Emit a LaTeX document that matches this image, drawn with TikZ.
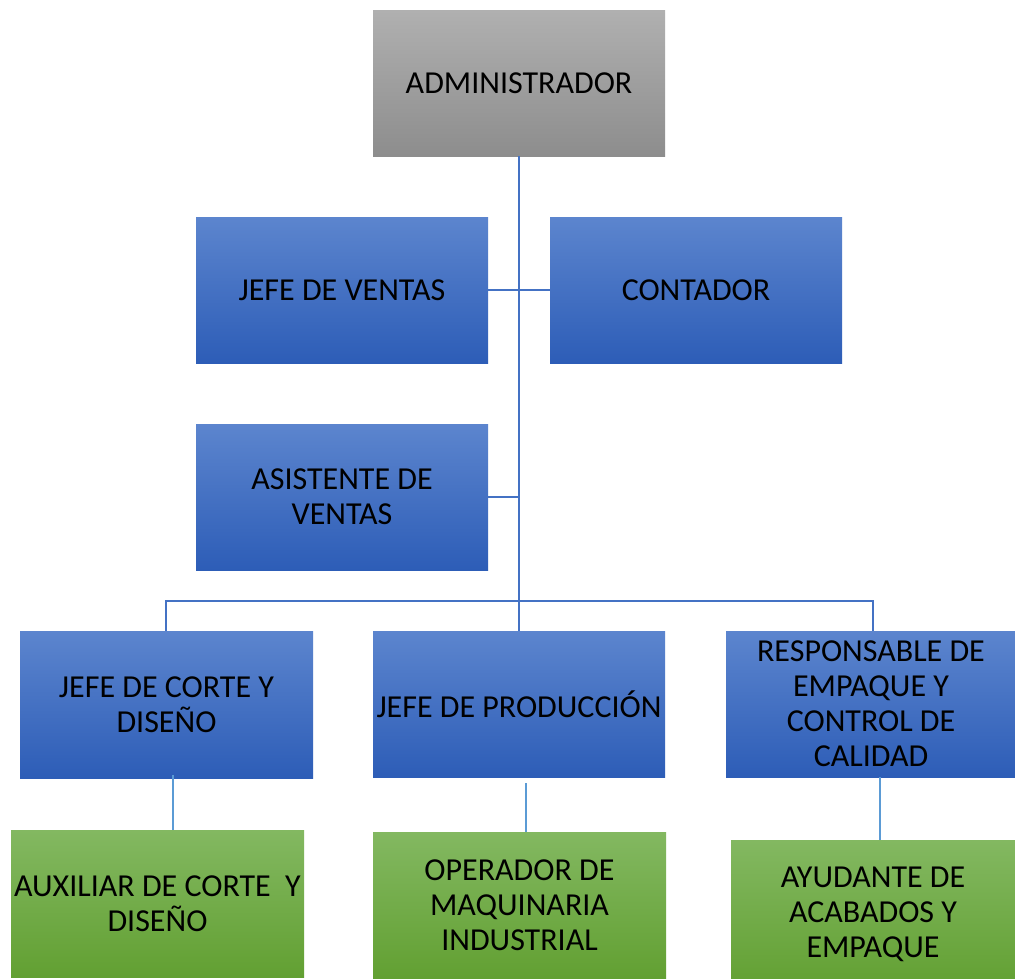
\documentclass[tikz,border=0pt]{standalone}
\usepackage{fontspec}
\setmainfont{Carlito}
\definecolor{bluetop}{RGB}{92,133,206}
\definecolor{bluebot}{RGB}{45,93,183}
\definecolor{greentop}{RGB}{131,184,97}
\definecolor{greenbot}{RGB}{98,160,50}
\definecolor{graytop}{RGB}{176,176,176}
\definecolor{graybot}{RGB}{141,141,141}
\definecolor{conn}{RGB}{68,114,196}
\definecolor{connlight}{RGB}{91,155,213}
\begin{document}
\begin{tikzpicture}[x=1pt,y=-1pt,
  box/.style={rectangle,draw=none,inner sep=0pt,align=center,
    font=\fontsize{32}{35}\selectfont,text=black},
  bluebox/.style={box,top color=bluetop,bottom color=bluebot},
  greenbox/.style={box,top color=greentop,bottom color=greenbot},
  graybox/.style={box,top color=graytop,bottom color=graybot},
  link/.style={draw=conn,line width=1.5pt},
  sublink/.style={draw=connlight,line width=1.2pt}]
\useasboundingbox (0,0) rectangle (1015,978);
\fill[white] (0,0) rectangle (1015,978);
% nodes
\node[graybox,minimum width=292pt,minimum height=146pt] (admin) at (519,83) {ADMINISTRADOR};
\node[bluebox,minimum width=292pt,minimum height=146pt] (jv) at (342,290) {JEFE DE VENTAS};
\node[bluebox,minimum width=292pt,minimum height=146pt] (cont) at (696,290) {CONTADOR};
\node[bluebox,minimum width=292pt,minimum height=146pt] (asis) at (342,497) {ASISTENTE DE\\VENTAS};
\node[bluebox,minimum width=293pt,minimum height=147pt] (jc) at (166.5,704.5) {JEFE DE CORTE Y\\DISEÑO};
\node[bluebox,minimum width=292pt,minimum height=146pt] (jp) at (519,704) {JEFE DE PRODUCCIÓN};
\node[bluebox,minimum width=290pt,minimum height=146pt] (resp) at (871,704) {RESPONSABLE DE\\EMPAQUE Y\\CONTROL DE\\CALIDAD};
\node[greenbox,minimum width=293pt,minimum height=147pt] (aux) at (157.5,903.5) {AUXILIAR DE CORTE\ \ Y\\DISEÑO};
\node[greenbox,minimum width=293pt,minimum height=146pt] (op) at (519.5,905) {OPERADOR DE\\MAQUINARIA\\INDUSTRIAL};
\node[greenbox,minimum width=284pt,minimum height=148pt] (ay) at (873,914) {AYUDANTE DE\\ACABADOS Y\\EMPAQUE};
% connectors
\coordinate (busL) at (166,601);
\coordinate (busR) at (873,601);
\coordinate (l1) at (173,775);
\coordinate (l2) at (526,783);
\coordinate (l3) at (880,777);
\draw[link] (admin.south) -- (jp.north);
\draw[link] (jv.east) -- (cont.west);
\draw[link] (asis.east) -- (asis.east -| admin.south);
\draw[link] (jc.north -| busL) -- (busL) -- (busR) -- (resp.north -| busR);
\draw[sublink] (l1) -- (l1 |- aux.north);
\draw[sublink] (l2) -- (l2 |- op.north);
\draw[sublink] (l3) -- (l3 |- ay.north);
\end{tikzpicture}
\end{document}
